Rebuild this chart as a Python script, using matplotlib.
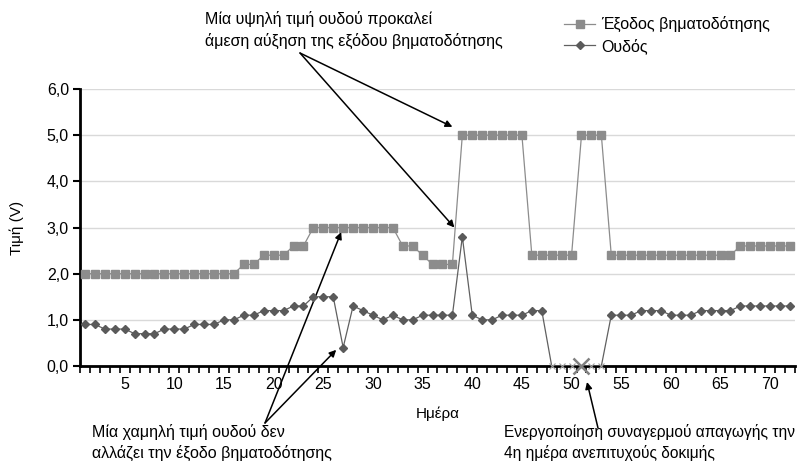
import matplotlib
matplotlib.use("Agg")
import matplotlib.pyplot as plt
from matplotlib.ticker import FixedLocator, FuncFormatter

plt.rcParams['font.family'] = ['Liberation Sans', 'DejaVu Sans']

# data
days = list(range(1, 73))
pacing_output = [2.0, 2.0, 2.0, 2.0, 2.0, 2.0, 2.0, 2.0, 2.0, 2.0, 2.0, 2.0, 2.0, 2.0, 2.0, 2.0,
                 2.2, 2.2, 2.4, 2.4, 2.4, 2.6, 2.6,
                 3.0, 3.0, 3.0, 3.0, 3.0, 3.0, 3.0, 3.0, 3.0,
                 2.6, 2.6, 2.4, 2.2, 2.2, 2.2,
                 5.0, 5.0, 5.0, 5.0, 5.0, 5.0, 5.0,
                 2.4, 2.4, 2.4, 2.4, 2.4,
                 5.0, 5.0, 5.0,
                 2.4, 2.4, 2.4, 2.4, 2.4, 2.4, 2.4, 2.4, 2.4, 2.4, 2.4, 2.4, 2.4,
                 2.6, 2.6, 2.6, 2.6, 2.6, 2.6]
threshold = [0.9, 0.9, 0.8, 0.8, 0.8, 0.7, 0.7, 0.7, 0.8, 0.8, 0.8, 0.9, 0.9, 0.9,
             1.0, 1.0, 1.1, 1.1, 1.2, 1.2, 1.2, 1.3, 1.3, 1.5, 1.5, 1.5, 0.4,
             1.3, 1.2, 1.1, 1.0, 1.1, 1.0, 1.0, 1.1, 1.1, 1.1, 1.1, 2.8,
             1.1, 1.0, 1.0, 1.1, 1.1, 1.1, 1.2, 1.2,
             0.0, 0.0, 0.0, 0.0, 0.0, 0.0,
             1.1, 1.1, 1.1, 1.2, 1.2, 1.2, 1.1, 1.1, 1.1, 1.2, 1.2, 1.2, 1.2,
             1.3, 1.3, 1.3, 1.3, 1.3, 1.3]
failed_days = [48, 49, 50, 52, 53]
alarm_day = 51
x_labels = [5, 10, 15, 20, 25, 30, 35, 40, 45, 50, 55, 60, 65, 70]
y_ticks = [0, 1, 2, 3, 4, 5, 6]

W, H = 803, 461
fig = plt.figure(figsize=(W / 100, H / 100), dpi=100)
ax = fig.add_axes([80 / W, 1 - 366 / H, 715 / W, 277 / H])

def fx(px):
    return px / W

def fy(py):
    return 1 - py / H

ok = [i for i, d in enumerate(days) if d not in failed_days and d != alarm_day]

ax.plot(days, pacing_output, color='#8c8c8c', lw=0.9, marker='s', ms=5.2,
        mfc='#8c8c8c', mec='#8c8c8c', label='Έξοδος βηματοδότησης', zorder=3)
ax.plot(days, threshold, color='#606060', lw=0.9, marker='D', ms=3.8,
        mfc='#5a5a5a', mec='#5a5a5a', markevery=ok, label='Ουδός', zorder=4)
ax.plot(failed_days, [threshold[d - 1] for d in failed_days], ls='none', marker='x',
        ms=4.5, mew=0.8, color='#a0a0a0', zorder=5, clip_on=False)
ax.plot([alarm_day], [threshold[alarm_day - 1]], ls='none', marker='x', ms=12, mew=1.8,
        color='#808080', zorder=6, clip_on=False)

ax.set_xlim(0.5, 72.5)
ax.set_ylim(0, 6)
ax.set_yticks(y_ticks)
ax.yaxis.set_major_formatter(FuncFormatter(lambda v, p: f"{v:.1f}".replace('.', ',')))
ax.set_xticks(x_labels)
ax.xaxis.set_minor_locator(FixedLocator([d + 0.5 for d in range(0, 73)]))
ax.tick_params(axis='x', which='major', length=0, pad=8, labelsize=11.5)
ax.tick_params(axis='x', which='minor', length=5, width=1.2, direction='out')
ax.tick_params(axis='y', which='major', length=5, width=1.5, direction='out', labelsize=11.5, pad=3)
ax.grid(axis='y', color='#d9d9d9', lw=1)
ax.set_axisbelow(True)
for s in ['top', 'right']:
    ax.spines[s].set_visible(False)
ax.spines['left'].set_linewidth(2)
ax.spines['bottom'].set_linewidth(2)

ax.set_xlabel('Ημέρα', fontsize=11, labelpad=10)
ax.set_ylabel('Τιμή (V)', fontsize=11, labelpad=16)

ax.legend(loc='upper left', bbox_to_anchor=(fx(550), fy(2)), bbox_transform=fig.transFigure,
          frameon=False, fontsize=11.5, handlelength=1.9, handletextpad=0.4, labelspacing=0.35)

arrow = dict(arrowstyle='-|>', color='black', lw=1.1, mutation_scale=10, shrinkA=0, shrinkB=0)
tfs = 11.5

fig.text(fx(205), fy(11), 'Μία υψηλή τιμή ουδού προκαλεί\nάμεση αύξηση της εξόδου βηματοδότησης',
         fontsize=tfs, va='top', ha='left', linespacing=1.45)
for tgt in [(38.0, 5.18), (38.2, 3.0)]:
    ax.annotate('', xy=tgt, xytext=(fx(300), fy(53)), textcoords='figure fraction',
                arrowprops=arrow, annotation_clip=False)

fig.text(fx(92), fy(424), 'Μία χαμηλή τιμή ουδού δεν\nαλλάζει την έξοδο βηματοδότησης',
         fontsize=tfs, va='top', ha='left', linespacing=1.35)
for tgt in [(26.8, 2.9), (26.3, 0.35)]:
    ax.annotate('', xy=tgt, xytext=(fx(265), fy(423)), textcoords='figure fraction',
                arrowprops=arrow, annotation_clip=False)

fig.text(fx(504), fy(424), 'Ενεργοποίηση συναγερμού απαγωγής την\n4η ημέρα ανεπιτυχούς δοκιμής',
         fontsize=11.2, va='top', ha='left', linespacing=1.35)
ax.annotate('', xy=(fx(587), fy(382)), xycoords='figure fraction',
            xytext=(fx(598), fy(428)), textcoords='figure fraction',
            arrowprops=arrow, annotation_clip=False)

fig.savefig('out.png', dpi=100)
